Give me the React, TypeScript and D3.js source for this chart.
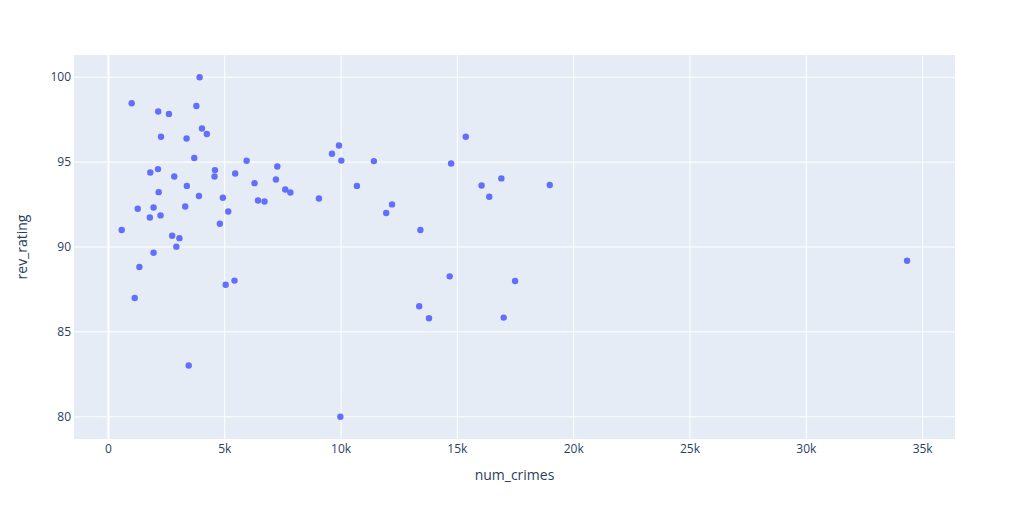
import React from "react";
import * as d3 from "d3";

const numCrimes: number[] = [
  3920, 1000, 3780, 2140, 2600, 4020, 4230, 2260, 3360, 3690, 5940, 7260, 2130, 1800,
  4580, 4560, 5450, 2830, 7200, 6280, 3370, 2160, 3890, 4920, 6430, 6710, 1260, 1940,
  3300, 5150, 1780, 2240, 4790, 570, 2740, 3050, 2920,
  1940, 1330, 5040, 5420, 1130, 3450,
  15360, 9910, 9610, 10010, 11410, 14730, 16890, 10680, 16040, 18970, 7600, 7820, 16370,
  9050, 12190, 11940, 13410,
  14670, 17480, 13360, 13780, 16990, 9970,
  34330,
];
const revRating: number[] = [
  100, 98.47, 98.31, 97.98, 97.84, 96.98, 96.66, 96.49, 96.39, 95.24, 95.08, 94.74, 94.59, 94.39,
  94.53, 94.15, 94.33, 94.15, 93.98, 93.76, 93.6, 93.23, 93.0, 92.9, 92.74, 92.68, 92.25, 92.33,
  92.39, 92.09, 91.74, 91.86, 91.37, 91.0, 90.66, 90.52, 90.02,
  89.66, 88.82, 87.78, 88.02, 87.0, 83.02,
  96.49, 95.98, 95.49, 95.09, 95.06, 94.92, 94.04, 93.6, 93.62, 93.65, 93.39, 93.21, 92.96,
  92.86, 92.51, 92.0, 91.0,
  88.27, 88.0, 86.51, 85.8, 85.84, 80.0,
  89.19,
];
const xTicks: number[] = [0, 5000, 10000, 15000, 20000, 25000, 30000, 35000];
const yTicks: number[] = [80, 85, 90, 95, 100];
const xDomain: [number, number] = [-1480, 36390];
const yDomain: [number, number] = [78.69, 101.31];

const W = 1031;
const H = 517;
const L = 74, R = 955, T = 55, B = 439;
const FONT = '"Open Sans", verdana, arial, sans-serif';
const TXT = "#2a3f5f";

export default function App() {
  const x = d3.scaleLinear().domain(xDomain).range([L, R]);
  const y = d3.scaleLinear().domain(yDomain).range([B, T]);
  const fmt = (v: number) => (v === 0 ? "0" : `${v / 1000}k`);
  return (
    <svg width={W} height={H} style={{ position: "absolute", left: 0, top: 0, background: "#fff" }}>
      <rect x={L} y={T} width={R - L} height={B - T} fill="#E5ECF6" />
      {xTicks.map((t) => (
        <line key={"gx" + t} x1={x(t)} x2={x(t)} y1={T} y2={B} stroke="#fff" strokeWidth={t === 0 ? 2 : 1} />
      ))}
      {yTicks.map((t) => (
        <line key={"gy" + t} x1={L} x2={R} y1={y(t)} y2={y(t)} stroke="#fff" strokeWidth={1} />
      ))}
      {numCrimes.map((v, i) => (
        <circle key={i} cx={x(v)} cy={y(revRating[i])} r={3.2} fill="#636efa" />
      ))}
      {xTicks.map((t) => (
        <text key={"tx" + t} x={x(t)} y={453} textAnchor="middle" fontFamily={FONT} fontSize={12} fill={TXT}>
          {fmt(t)}
        </text>
      ))}
      {yTicks.map((t) => (
        <text key={"ty" + t} x={71} y={y(t) + 4} textAnchor="end" fontFamily={FONT} fontSize={12} fill={TXT}>
          {t}
        </text>
      ))}
      <text x={(L + R) / 2} y={480} textAnchor="middle" fontFamily={FONT} fontSize={14} fill={TXT}>
        num_crimes
      </text>
      <text
        transform={`translate(27,${(T + B) / 2}) rotate(-90)`}
        textAnchor="middle"
        fontFamily={FONT}
        fontSize={14}
        fill={TXT}
      >
        rev_rating
      </text>
    </svg>
  );
}
